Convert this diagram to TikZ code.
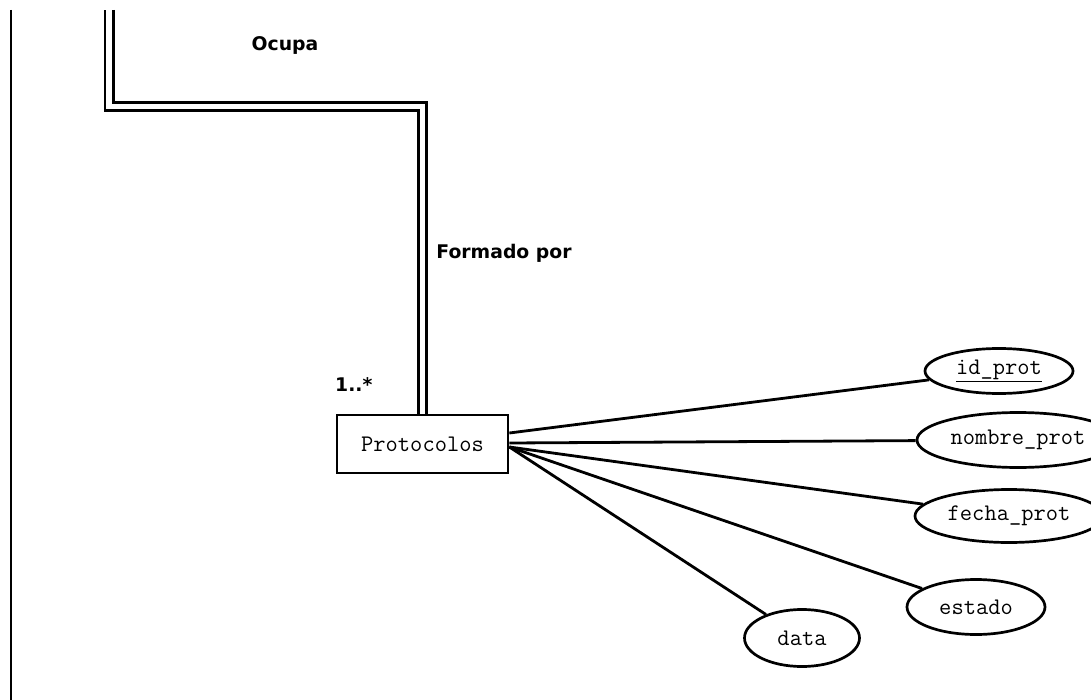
\documentclass[tikz,border=0pt]{standalone}
\usepackage{fontspec}
\usetikzlibrary{shapes.geometric,calc}
\newfontfamily\lblfont{DejaVu Sans}
\begin{document}
\begin{tikzpicture}[x=1pt,y=-1pt,
  conn/.style={line width=2.8pt},
  lbl/.style={font=\lblfont\bfseries\fontsize{18.8}{22}\selectfont, inner sep=0pt},
  attr/.style={ellipse, draw, line width=2.7pt, inner sep=0pt, font=\ttfamily\fontsize{23.8}{27}\selectfont},
  entity/.style={rectangle, draw, line width=2.7pt, minimum width=171pt, minimum height=58pt, inner sep=0pt, font=\ttfamily\fontsize{23.8}{27}\selectfont}]
\useasboundingbox (0,0) rectangle (1091,700);
\clip (0,0) rectangle (1091,700);
\fill[white] (0,0) rectangle (1091,700);

\node[entity] (prot) at (422.5,444) {Protocolos};

\node[attr, minimum width=148pt, minimum height=45pt] (id) at (999,371) {\underline{id\_prot}};
\node[attr, minimum width=202pt, minimum height=55pt] (nombre) at (1018,440) {nombre\_prot};
\node[attr, minimum width=188pt, minimum height=53pt] (fecha) at (1009,516) {fecha\_prot};
\node[attr, minimum width=138pt, minimum height=55pt] (estado) at (976,607) {estado};
\node[attr, minimum width=115pt, minimum height=57pt] (data) at (802,638) {data};

\node[lbl] (ocupa) at (285,45) {Ocupa};
\node[lbl] (formado) at (504,253) {Formado por};
\node[lbl, anchor=west] (card) at (335,385) {1..*};

\coordinate (ltop) at (11,10);
\coordinate (lbot) at (11,700);
\draw[conn] (ltop) -- (lbot);

\coordinate (dtop) at (109,10);
\draw[line width=2.8pt, double, double distance=5.4pt] (dtop) |- ($(prot.north)+(0,-307)$) -- (prot.north);

\coordinate (s1) at ($(prot.east)+(0,-11)$);
\coordinate (s2) at ($(prot.east)+(0,-1)$);
\coordinate (s3) at ($(prot.east)+(0,3)$);
\draw[conn] (s1) -- (id);
\draw[conn] (s2) -- (nombre);
\draw[conn] (s3) -- (fecha);
\draw[conn] (s3) -- (estado);
\draw[conn] (s3) -- (data);
\end{tikzpicture}
\end{document}
